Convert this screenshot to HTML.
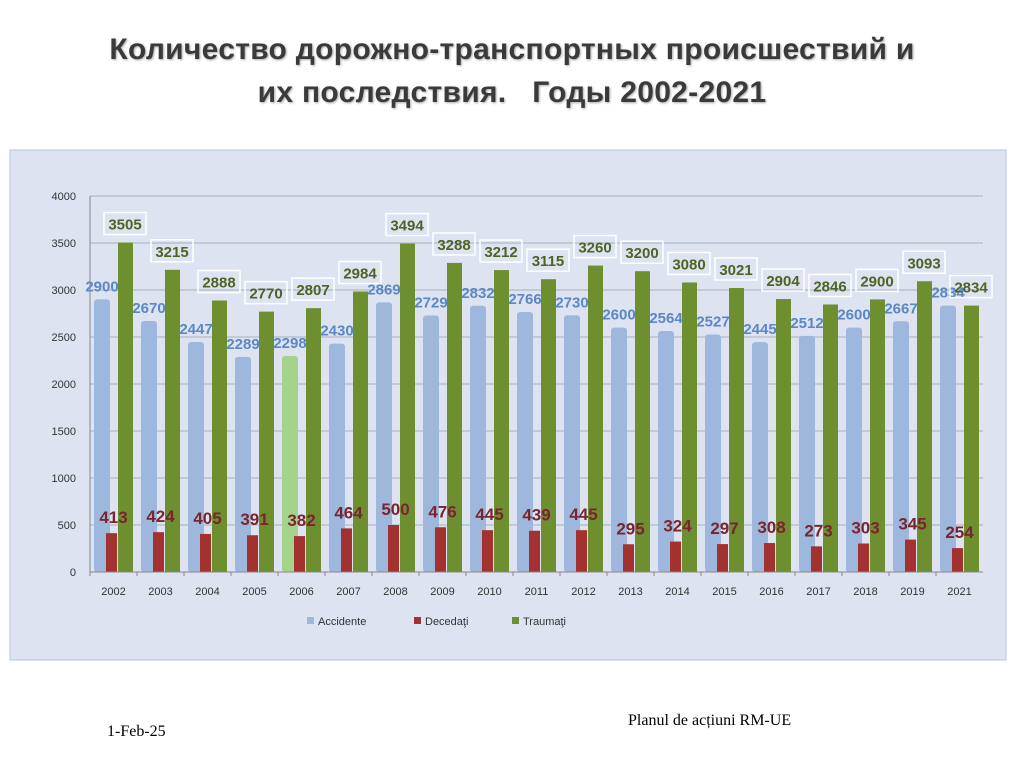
<!DOCTYPE html>
<html><head><meta charset="utf-8"><style>
body{margin:0;width:1024px;height:767px;background:#fff;position:relative;overflow:hidden;font-family:"Liberation Sans",sans-serif}
.title{position:absolute;left:0;width:1024px;top:28px;text-align:center;font-size:30px;font-weight:bold;line-height:43px;color:#3a3a3a;text-shadow:1px 1px 2px #aaa;letter-spacing:0.3px}
.foot{position:absolute;font-family:"Liberation Serif",serif;font-size:16px;color:#000}
</style></head><body>
<div class="title">Количество дорожно-транспортных происшествий и<br>их последствия.&nbsp;&nbsp; Годы 2002-2021</div>
<svg id="chart" width="1024" height="767" style="position:absolute;left:0;top:0">
<rect x="10" y="150" width="996" height="510" fill="#dde3f1" stroke="#b8c4da"/>
<g id="g"></g>
</svg>
<div class="foot" style="left:107px;top:723px">1-Feb-25</div>
<div class="foot" style="left:628px;top:712px">Planul de acțiuni RM-UE</div>
<script>
const years=["2002","2003","2004","2005","2006","2007","2008","2009","2010","2011","2012","2013","2014","2015","2016","2017","2018","2019","2021"];
const accidente=[2900,2670,2447,2289,2298,2430,2869,2729,2832,2766,2730,2600,2564,2527,2445,2512,2600,2667,2834];
const decedati=[413,424,405,391,382,464,500,476,445,439,445,295,324,297,308,273,303,345,254];
const traumati=[3505,3215,2888,2770,2807,2984,3494,3288,3212,3115,3260,3200,3080,3021,2904,2846,2900,3093,2834];
const yTicks=[0,500,1000,1500,2000,2500,3000,3500,4000];
const NS="http://www.w3.org/2000/svg";
const g=document.getElementById('g');
const x0=90,x1=983,y0=572,yTop=196,vmax=4000;
const n=years.length,cw=(x1-x0)/n;
const Y=v=>y0-(v/vmax)*(y0-yTop);
const X=i=>x0+i*cw;
function mk(t,a,txt){const e=document.createElementNS(NS,t);for(const k in a)e.setAttribute(k,a[k]);if(txt!==undefined)e.textContent=txt;g.appendChild(e);return e;}
yTicks.forEach(v=>{
 const l=mk('line',{x1:x0,x2:x1,y1:Y(v),y2:Y(v),stroke:'#a8b0c0','stroke-width':1});
 
 
 const t=mk('text',{x:x0-14,y:Y(v)+4,'text-anchor':'end','font-size':11,fill:'#333'},v);
 
 
});
mk('line',{x1:x0,x2:x0,y1:yTop,y2:y0,stroke:'#888'});
years.forEach((yr,i)=>{
 const cx=X(i);
 const a=mk('rect',{x:cx+4,y:Y(accidente[i]),width:16,height:y0-Y(accidente[i]),fill:i==4?'#a6d38a':'#9db8dc',rx:3});
 
 
 const t=mk('rect',{x:cx+28,y:Y(traumati[i]),width:15,height:y0-Y(traumati[i]),fill:'#6e8f2f'});
 
 
 const d=mk('rect',{x:cx+16,y:Y(decedati[i]),width:11,height:y0-Y(decedati[i]),fill:'#a3312f'});
 
 
 const la=mk('text',{x:cx+12,y:Y(accidente[i])-8,'text-anchor':'middle','font-size':15,'font-weight':'bold',fill:'#5b87c5'},accidente[i]);
 
 
 const bx=mk('rect',{x:cx+14,y:Y(traumati[i])-30,width:42,height:22,fill:'none',stroke:'#fff','stroke-width':1.5});
 
 
 const lt=mk('text',{x:cx+35,y:Y(traumati[i])-13,'text-anchor':'middle','font-size':15,'font-weight':'bold',fill:'#4f6323'},traumati[i]);
 
 
 const ld=mk('text',{x:cx+cw/2,y:Y(decedati[i])-10,'text-anchor':'middle','font-size':17,'font-weight':'bold',fill:'#7a2430'},decedati[i]);
 
 
 const xt=mk('text',{x:cx+cw/2,y:y0+23,'text-anchor':'middle','font-size':11,fill:'#333'},yr);
 
 
 mk('line',{x1:cx,x2:cx,y1:y0,y2:y0+4,stroke:'#888'});
});
mk('line',{x1:x0,x2:x1,y1:y0,y2:y0,stroke:'#888'});
const legend=[["Accidente","#9db8dc",307],["Decedaţi","#a3312f",414],["Traumaţi","#6e8f2f",512]];
legend.forEach(([name,c,lx])=>{
 const s=mk('rect',{x:lx,y:617,width:7,height:7,fill:c});
 
 
 const t=mk('text',{x:lx+11,y:625,'font-size':11,fill:'#333'},name);
 
 
});
</script>
</body></html>
